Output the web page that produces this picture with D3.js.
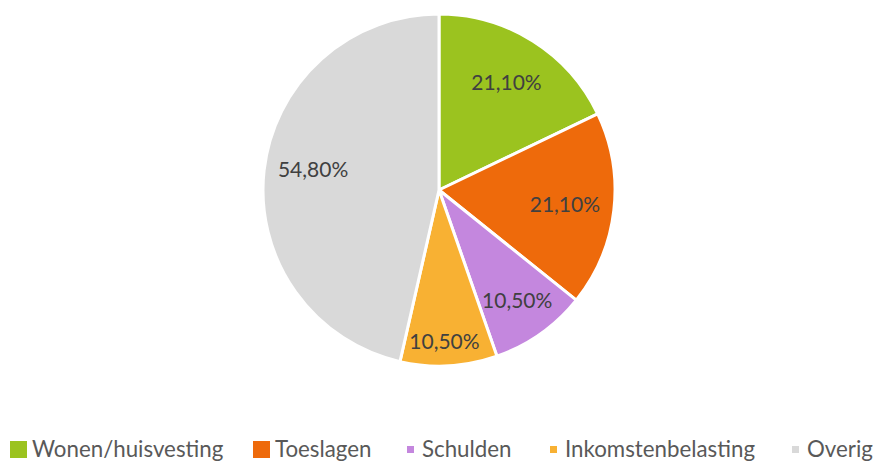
<!DOCTYPE html>
<html><head><meta charset="utf-8">
<script src="https://cdn.jsdelivr.net/npm/d3@7"></script>
<style>body{margin:0;background:#fff}svg{display:block}</style>
</head><body>
<script>
const categories = ["Wonen/huisvesting","Toeslagen","Schulden","Inkomstenbelasting","Overig"];
const values = [21.1, 21.1, 10.5, 10.5, 54.8];
const labels = ["21,10%","21,10%","10,50%","10,50%","54,80%"];
const colors = ["#9BC31F","#EE6A0B","#C487DE","#F8B133","#D9D9D9"];

const W = 875, H = 461;
const cx = 439, cy = 190, r = 176;
const svg = d3.select("body").append("svg").attr("width", W).attr("height", H);
const font = "Lato, 'Open Sans', sans-serif";

const pie = d3.pie().sort(null).value(d => d);
const arcs = pie(values);
const arc = d3.arc().innerRadius(0).outerRadius(r);
const g = svg.append("g").attr("transform", `translate(${cx},${cy})`);
g.selectAll("path").data(arcs).join("path")
  .attr("d", arc)
  .attr("fill", (d,i) => colors[i])
  .attr("stroke", "#fff").attr("stroke-width", 3).attr("stroke-linejoin","round");

const labelFactor = [0.72, 0.72, 0.77, 0.86, 0.725];
const labelRot = [0, 0, 0, 0.02, 0.05];
g.selectAll("text").data(arcs).join("text")
  .attr("transform", (d,i) => {
    const a = (d.startAngle + d.endAngle) / 2 + labelRot[i];
    const rr = r * labelFactor[i];
    return `translate(${Math.sin(a)*rr},${-Math.cos(a)*rr})`;
  })
  .attr("text-anchor","middle").attr("dy","0.35em")
  .attr("font-family", font).attr("font-size", 21).attr("fill", "#404040")
  .text((d,i) => labels[i]);

// legend
const legX = [10, 253, 407, 550, 792];
const big = [true, true, false, false, false];
const lg = svg.append("g");
categories.forEach((c,i) => {
  const s = big[i] ? 17 : 7;
  const y0 = big[i] ? 441 : 446;
  lg.append("rect").attr("x", legX[i]).attr("y", y0).attr("width", s).attr("height", s).attr("fill", colors[i]);
  lg.append("text").attr("x", legX[i] + (big[i] ? 22 : 15)).attr("y", 457)
    .attr("font-family", font).attr("font-size", 22.3).attr("fill", "#595959").text(c);
});
</script>
</body></html>
